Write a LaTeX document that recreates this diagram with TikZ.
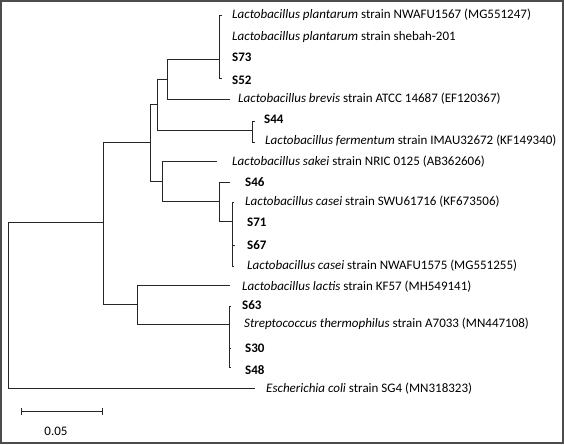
\documentclass[tikz,border=0pt]{standalone}
\usepackage{fontspec}
\setmainfont{Carlito}
\begin{document}
\begin{tikzpicture}[x=1pt,y=-1pt,
  br/.style={draw=black!85,line width=1pt},
  lab/.style={anchor=west,inner sep=0pt,font=\fontsize{13}{15}\selectfont,text=black},
  slab/.style={lab,font=\fontsize{13}{15}\selectfont\bfseries}]
\useasboundingbox (0,0) rectangle (564,444);
\draw[draw=black!70,line width=1.8pt] (0.9,0.9) rectangle (563.1,443.1);
% internal nodes
\coordinate (root) at (8,305);
\coordinate (A) at (103,222);
\coordinate (B) at (150,142);
\coordinate (C) at (157,104);
\coordinate (D) at (167,79);
\coordinate (E) at (219,59);
\coordinate (F) at (252,130);
\coordinate (G) at (162,181);
\coordinate (H) at (219,201);
\coordinate (I) at (232,221);
\coordinate (J) at (137,304);
\coordinate (K) at (229,324);
% tips
\coordinate (t1) at (222,16);
\coordinate (t2) at (220,37);
\coordinate (t3) at (220,57);
\coordinate (t4) at (222,78);
\coordinate (t5) at (230,99);
\coordinate (t6) at (255,121);
\coordinate (t7) at (255,142);
\coordinate (t8) at (217,161);
\coordinate (t9) at (230,182);
\coordinate (t10) at (234,202);
\coordinate (t11) at (233,222);
\coordinate (t12) at (235,245);
\coordinate (t13) at (234,266);
\coordinate (t14) at (230,285);
\coordinate (t15) at (231,306);
\coordinate (t16) at (230,324);
\coordinate (t17) at (231,348);
\coordinate (t18) at (231,367);
\coordinate (t19) at (255,388);
% branches
\draw[br] (root) |- (A);
\draw[br] (root) |- (t19);
\draw[br] (A) |- (B);
\draw[br] (A) |- (J);
\draw[br] (B) |- (C);
\draw[br] (B) |- (G);
\draw[br] (C) |- (D);
\draw[br] (C) |- (F);
\draw[br] (D) |- (E);
\draw[br] (D) |- (t5);
\draw[br] (E) |- (t1);
\draw[br] (E) |- (t2);
\draw[br] (E) |- (t3);
\draw[br] (E) |- (t4);
\draw[br] (F) |- (t6);
\draw[br] (F) |- (t7);
\draw[br] (G) |- (t8);
\draw[br] (G) |- (H);
\draw[br] (H) |- (t9);
\draw[br] (H) |- (I);
\draw[br] (I) |- (t10);
\draw[br] (I) |- (t11);
\draw[br] (I) |- (t12);
\draw[br] (I) |- (t13);
\draw[br] (J) |- (t14);
\draw[br] (J) |- (K);
\draw[br] (K) |- (t15);
\draw[br] (K) |- (t16);
\draw[br] (K) |- (t17);
\draw[br] (K) |- (t18);
% labels
\node[lab] (n1) at (232,15) {\textit{Lactobacillus plantarum} strain NWAFU1567 (MG551247)};
\node[lab] (n2) at (232,37) {\textit{Lactobacillus plantarum} strain shebah-201};
\node[slab] (n3) at (232,57) {S73};
\node[slab] (n4) at (232,80) {S52};
\node[lab] (n5) at (238,99) {\textit{Lactobacillus brevis} strain ATCC 14687 (EF120367)};
\node[slab] (n6) at (264,119) {S44};
\node[lab] (n7) at (265,141) {\textit{Lactobacillus fermentum} strain IMAU32672 (KF149340)};
\node[lab] (n8) at (232,162) {\textit{Lactobacillus sakei} strain NRIC 0125 (AB362606)};
\node[slab] (n9) at (245,182) {S46};
\node[lab] (n10) at (245,202) {\textit{Lactobacillus casei} strain SWU61716 (KF673506)};
\node[slab] (n11) at (247,222) {S71};
\node[slab] (n12) at (247,245) {S67};
\node[lab] (n13) at (247,266) {\textit{Lactobacillus casei} strain NWAFU1575 (MG551255)};
\node[lab] (n14) at (242,287) {\textit{Lactobacillus lactis} strain KF57 (MH549141)};
\node[slab] (n15) at (242,305) {S63};
\node[lab] (n16) at (244,324) {\textit{Streptococcus thermophilus} strain A7033 (MN447108)};
\node[slab] (n17) at (245,348) {S30};
\node[slab] (n18) at (245,370) {S48};
\node[lab] (n19) at (266,389) {\textit{Escherichia coli} strain SG4 (MN318323)};
% scale bar
\coordinate (s1) at (21,411);
\coordinate (s2) at (102,411);
\draw[br] (s1) -- (s2);
\draw[br] ([yshift=-3.5]s1) -- ([yshift=3.5]s1);
\draw[br] ([yshift=-3.5]s2) -- ([yshift=3.5]s2);
\node[lab,anchor=center] (sl) at (56,431) {0.05};
\end{tikzpicture}
\end{document}
